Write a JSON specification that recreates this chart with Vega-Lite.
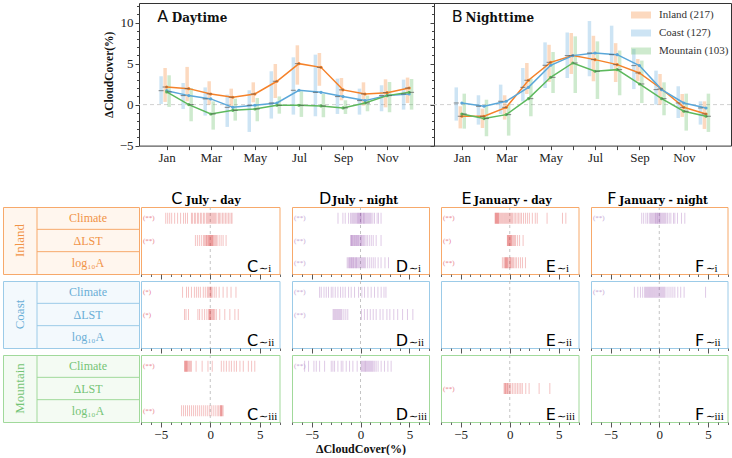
{
"$schema": "https://vega.github.io/schema/vega-lite/v6.json",
"background": "white",
"padding": {"left": 2, "top": 2, "right": 0, "bottom": 0},
"datasets": {
"top": [
{"panel":"A","region":"Inland","month":1,"mean":2.15,"lo":0.33,"hi":4.47},
{"panel":"A","region":"Inland","month":2,"mean":1.95,"lo":0.4,"hi":4.6},
{"panel":"A","region":"Inland","month":3,"mean":1.3,"lo":0,"hi":2.85},
{"panel":"A","region":"Inland","month":4,"mean":0.9,"lo":-0.33,"hi":1.95},
{"panel":"A","region":"Inland","month":5,"mean":1.3,"lo":0.28,"hi":2.72},
{"panel":"A","region":"Inland","month":6,"mean":2.85,"lo":0.81,"hi":4.96},
{"panel":"A","region":"Inland","month":7,"mean":5.0,"lo":2.44,"hi":7.24},
{"panel":"A","region":"Inland","month":8,"mean":4.55,"lo":2.3,"hi":6.3},
{"panel":"A","region":"Inland","month":9,"mean":1.8,"lo":0.53,"hi":3.25},
{"panel":"A","region":"Inland","month":10,"mean":1.3,"lo":-0.12,"hi":2.72},
{"panel":"A","region":"Inland","month":11,"mean":1.46,"lo":-0.33,"hi":3.09},
{"panel":"A","region":"Inland","month":12,"mean":2.03,"lo":0.2,"hi":3.3},
{"panel":"A","region":"Coast","month":1,"mean":1.7,"lo":0.08,"hi":3.46},
{"panel":"A","region":"Coast","month":2,"mean":1.1,"lo":-0.53,"hi":2.64},
{"panel":"A","region":"Coast","month":3,"mean":0.7,"lo":-1.34,"hi":2.1},
{"panel":"A","region":"Coast","month":4,"mean":-0.33,"lo":-2.72,"hi":1.22},
{"panel":"A","region":"Coast","month":5,"mean":-0.08,"lo":-3.33,"hi":1.75},
{"panel":"A","region":"Coast","month":6,"mean":0.2,"lo":-1.7,"hi":4.07},
{"panel":"A","region":"Coast","month":7,"mean":1.75,"lo":-1.22,"hi":5.77},
{"panel":"A","region":"Coast","month":8,"mean":1.5,"lo":-1.42,"hi":6.1},
{"panel":"A","region":"Coast","month":9,"mean":0.98,"lo":-1.14,"hi":3.17},
{"panel":"A","region":"Coast","month":10,"mean":0.49,"lo":-1.22,"hi":1.95},
{"panel":"A","region":"Coast","month":11,"mean":1.1,"lo":-0.81,"hi":2.36},
{"panel":"A","region":"Coast","month":12,"mean":1.3,"lo":-0.61,"hi":3.05},
{"panel":"A","region":"Mountain","month":1,"mean":1.55,"lo":-0.28,"hi":3.58},
{"panel":"A","region":"Mountain","month":2,"mean":0,"lo":-2.03,"hi":2.03},
{"panel":"A","region":"Mountain","month":3,"mean":-1.14,"lo":-3.05,"hi":0.4},
{"panel":"A","region":"Mountain","month":4,"mean":-0.7,"lo":-1.95,"hi":0.73},
{"panel":"A","region":"Mountain","month":5,"mean":-0.53,"lo":-2.03,"hi":0.81},
{"panel":"A","region":"Mountain","month":6,"mean":-0.08,"lo":-1.1,"hi":1.0},
{"panel":"A","region":"Mountain","month":7,"mean":-0.08,"lo":-1.5,"hi":1.63},
{"panel":"A","region":"Mountain","month":8,"mean":-0.16,"lo":-1.54,"hi":1.3},
{"panel":"A","region":"Mountain","month":9,"mean":-0.4,"lo":-1.14,"hi":0.53},
{"panel":"A","region":"Mountain","month":10,"mean":0.2,"lo":-0.81,"hi":1.1},
{"panel":"A","region":"Mountain","month":11,"mean":1.1,"lo":-0.93,"hi":2.76},
{"panel":"A","region":"Mountain","month":12,"mean":1.5,"lo":-0.61,"hi":3.13},
{"panel":"B","region":"Inland","month":1,"mean":-1.42,"lo":-2.9,"hi":-0.2},
{"panel":"B","region":"Inland","month":2,"mean":-1.42,"lo":-2.85,"hi":-0.49},
{"panel":"B","region":"Inland","month":3,"mean":-0.33,"lo":-1.83,"hi":1.14},
{"panel":"B","region":"Inland","month":4,"mean":2.97,"lo":1.3,"hi":5.08},
{"panel":"B","region":"Inland","month":5,"mean":5.16,"lo":2.76,"hi":7.3},
{"panel":"B","region":"Inland","month":6,"mean":5.98,"lo":3.74,"hi":8.74},
{"panel":"B","region":"Inland","month":7,"mean":5.49,"lo":2.85,"hi":8.4},
{"panel":"B","region":"Inland","month":8,"mean":4.88,"lo":2.76,"hi":7.5},
{"panel":"B","region":"Inland","month":9,"mean":3.86,"lo":2.85,"hi":5.57},
{"panel":"B","region":"Inland","month":10,"mean":1.91,"lo":0,"hi":3.74},
{"panel":"B","region":"Inland","month":11,"mean":-0.33,"lo":-1.5,"hi":1.3},
{"panel":"B","region":"Inland","month":12,"mean":-1.14,"lo":-2.97,"hi":0.4},
{"panel":"B","region":"Coast","month":1,"mean":0.2,"lo":-1.95,"hi":2.1},
{"panel":"B","region":"Coast","month":2,"mean":-0.2,"lo":-2.44,"hi":1.14},
{"panel":"B","region":"Coast","month":3,"mean":0.41,"lo":-1.14,"hi":2.44},
{"panel":"B","region":"Coast","month":4,"mean":2.11,"lo":0.4,"hi":4.47},
{"panel":"B","region":"Coast","month":5,"mean":4.8,"lo":2.03,"hi":7.6},
{"panel":"B","region":"Coast","month":6,"mean":5.98,"lo":3.25,"hi":8.8},
{"panel":"B","region":"Coast","month":7,"mean":6.3,"lo":3.46,"hi":10.2},
{"panel":"B","region":"Coast","month":8,"mean":6.1,"lo":4.27,"hi":9.63},
{"panel":"B","region":"Coast","month":9,"mean":4.76,"lo":1.9,"hi":6.8},
{"panel":"B","region":"Coast","month":10,"mean":1.83,"lo":0,"hi":4.15},
{"panel":"B","region":"Coast","month":11,"mean":0.2,"lo":-1.63,"hi":2.24},
{"panel":"B","region":"Coast","month":12,"mean":-0.41,"lo":-2.44,"hi":0.4},
{"panel":"B","region":"Mountain","month":1,"mean":-1.14,"lo":-2.93,"hi":1.34},
{"panel":"B","region":"Mountain","month":2,"mean":-1.7,"lo":-3.86,"hi":0.6},
{"panel":"B","region":"Mountain","month":3,"mean":-1.22,"lo":-3.78,"hi":0},
{"panel":"B","region":"Mountain","month":4,"mean":0.73,"lo":-1.42,"hi":3.17},
{"panel":"B","region":"Mountain","month":5,"mean":3.33,"lo":1.42,"hi":6.42},
{"panel":"B","region":"Mountain","month":6,"mean":5.08,"lo":1.42,"hi":8.33},
{"panel":"B","region":"Mountain","month":7,"mean":4.07,"lo":0.69,"hi":7.72},
{"panel":"B","region":"Mountain","month":8,"mean":4.27,"lo":1.14,"hi":6.6},
{"panel":"B","region":"Mountain","month":9,"mean":2.52,"lo":0.2,"hi":5.37},
{"panel":"B","region":"Mountain","month":10,"mean":0.73,"lo":-1.3,"hi":2.72},
{"panel":"B","region":"Mountain","month":11,"mean":-0.81,"lo":-3.17,"hi":1.34},
{"panel":"B","region":"Mountain","month":12,"mean":-1.42,"lo":-3.33,"hi":1.34}
],
"metrics": [{"m":"Climate","label":"Climate"},{"m":"ΔLST","label":"ΔLST"},{"m":"log10A","label":"log₁₀A"}],
"sig": [
{"p":"C","r":"Inland","m":"Climate","s":"(**)"},
{"p":"C","r":"Inland","m":"ΔLST","s":"(**)"},
{"p":"C","r":"Coast","m":"Climate","s":"(*)"},
{"p":"C","r":"Coast","m":"ΔLST","s":"(*)"},
{"p":"C","r":"Mountain","m":"Climate","s":"(**)"},
{"p":"C","r":"Mountain","m":"log10A","s":"(**)"},
{"p":"D","r":"Inland","m":"Climate","s":"(**)"},
{"p":"D","r":"Inland","m":"ΔLST","s":"(**)"},
{"p":"D","r":"Inland","m":"log10A","s":"(**)"},
{"p":"D","r":"Coast","m":"Climate","s":"(**)"},
{"p":"D","r":"Coast","m":"ΔLST","s":"(**)"},
{"p":"D","r":"Mountain","m":"Climate","s":"(**)"},
{"p":"E","r":"Inland","m":"Climate","s":"(**)"},
{"p":"E","r":"Inland","m":"ΔLST","s":"(*)"},
{"p":"E","r":"Inland","m":"log10A","s":"(**)"},
{"p":"E","r":"Mountain","m":"ΔLST","s":"(**)"},
{"p":"F","r":"Inland","m":"Climate","s":"(**)"},
{"p":"F","r":"Coast","m":"Climate","s":"(**)"}
],
"rug": [
{"p":"C","r":"Inland","m":"Climate","v":-4.5},{"p":"C","r":"Inland","m":"Climate","v":-4.3},{"p":"C","r":"Inland","m":"Climate","v":-4.1},{"p":"C","r":"Inland","m":"Climate","v":-3.9},{"p":"C","r":"Inland","m":"Climate","v":-3.6},{"p":"C","r":"Inland","m":"Climate","v":-3.3},{"p":"C","r":"Inland","m":"Climate","v":-3.0},{"p":"C","r":"Inland","m":"Climate","v":-2.7},{"p":"C","r":"Inland","m":"Climate","v":-2.5},{"p":"C","r":"Inland","m":"Climate","v":-2.3},{"p":"C","r":"Inland","m":"Climate","v":-1.9},{"p":"C","r":"Inland","m":"Climate","v":-1.8},{"p":"C","r":"Inland","m":"Climate","v":-1.6},{"p":"C","r":"Inland","m":"Climate","v":-1.5},{"p":"C","r":"Inland","m":"Climate","v":-1.3},{"p":"C","r":"Inland","m":"Climate","v":-1.2},{"p":"C","r":"Inland","m":"Climate","v":-1.0},{"p":"C","r":"Inland","m":"Climate","v":-0.9},{"p":"C","r":"Inland","m":"Climate","v":-0.7},{"p":"C","r":"Inland","m":"Climate","v":-0.6},{"p":"C","r":"Inland","m":"Climate","v":-0.4},{"p":"C","r":"Inland","m":"Climate","v":-0.3},{"p":"C","r":"Inland","m":"Climate","v":-0.2},{"p":"C","r":"Inland","m":"Climate","v":-0.1},{"p":"C","r":"Inland","m":"Climate","v":0},{"p":"C","r":"Inland","m":"Climate","v":0.1},{"p":"C","r":"Inland","m":"Climate","v":0.2},{"p":"C","r":"Inland","m":"Climate","v":0.3},{"p":"C","r":"Inland","m":"Climate","v":0.4},{"p":"C","r":"Inland","m":"Climate","v":0.5},{"p":"C","r":"Inland","m":"Climate","v":0.6},{"p":"C","r":"Inland","m":"Climate","v":0.8},{"p":"C","r":"Inland","m":"Climate","v":0.9},{"p":"C","r":"Inland","m":"Climate","v":1.0},{"p":"C","r":"Inland","m":"Climate","v":1.2},{"p":"C","r":"Inland","m":"Climate","v":1.3},{"p":"C","r":"Inland","m":"Climate","v":1.5},{"p":"C","r":"Inland","m":"Climate","v":1.6},{"p":"C","r":"Inland","m":"Climate","v":1.8},{"p":"C","r":"Inland","m":"Climate","v":1.9},{"p":"C","r":"Inland","m":"Climate","v":2.1},{"p":"C","r":"Inland","m":"Climate","v":2.2},
{"p":"C","r":"Inland","m":"ΔLST","v":-1.5},{"p":"C","r":"Inland","m":"ΔLST","v":-1.3},{"p":"C","r":"Inland","m":"ΔLST","v":-1.1},{"p":"C","r":"Inland","m":"ΔLST","v":-0.9},{"p":"C","r":"Inland","m":"ΔLST","v":-0.7},{"p":"C","r":"Inland","m":"ΔLST","v":-0.6},{"p":"C","r":"Inland","m":"ΔLST","v":-0.5},{"p":"C","r":"Inland","m":"ΔLST","v":-0.4},{"p":"C","r":"Inland","m":"ΔLST","v":-0.35},{"p":"C","r":"Inland","m":"ΔLST","v":-0.3},{"p":"C","r":"Inland","m":"ΔLST","v":-0.2},{"p":"C","r":"Inland","m":"ΔLST","v":-0.15},{"p":"C","r":"Inland","m":"ΔLST","v":-0.1},{"p":"C","r":"Inland","m":"ΔLST","v":-0.05},{"p":"C","r":"Inland","m":"ΔLST","v":0},{"p":"C","r":"Inland","m":"ΔLST","v":0.05},{"p":"C","r":"Inland","m":"ΔLST","v":0.1},{"p":"C","r":"Inland","m":"ΔLST","v":0.15},{"p":"C","r":"Inland","m":"ΔLST","v":0.2},{"p":"C","r":"Inland","m":"ΔLST","v":0.25},{"p":"C","r":"Inland","m":"ΔLST","v":0.3},{"p":"C","r":"Inland","m":"ΔLST","v":0.4},{"p":"C","r":"Inland","m":"ΔLST","v":0.5},{"p":"C","r":"Inland","m":"ΔLST","v":0.6},{"p":"C","r":"Inland","m":"ΔLST","v":0.7},{"p":"C","r":"Inland","m":"ΔLST","v":0.9},{"p":"C","r":"Inland","m":"ΔLST","v":1.1},{"p":"C","r":"Inland","m":"ΔLST","v":1.3},{"p":"C","r":"Inland","m":"ΔLST","v":1.6},
{"p":"C","r":"Coast","m":"Climate","v":-2.8},{"p":"C","r":"Coast","m":"Climate","v":-2.4},{"p":"C","r":"Coast","m":"Climate","v":-2.2},{"p":"C","r":"Coast","m":"Climate","v":-1.9},{"p":"C","r":"Coast","m":"Climate","v":-1.6},{"p":"C","r":"Coast","m":"Climate","v":-1.4},{"p":"C","r":"Coast","m":"Climate","v":-1.2},{"p":"C","r":"Coast","m":"Climate","v":-1.0},{"p":"C","r":"Coast","m":"Climate","v":-0.7},{"p":"C","r":"Coast","m":"Climate","v":-0.5},{"p":"C","r":"Coast","m":"Climate","v":-0.3},{"p":"C","r":"Coast","m":"Climate","v":-0.2},{"p":"C","r":"Coast","m":"Climate","v":-0.1},{"p":"C","r":"Coast","m":"Climate","v":0},{"p":"C","r":"Coast","m":"Climate","v":0.05},{"p":"C","r":"Coast","m":"Climate","v":0.1},{"p":"C","r":"Coast","m":"Climate","v":0.2},{"p":"C","r":"Coast","m":"Climate","v":0.4},{"p":"C","r":"Coast","m":"Climate","v":0.6},{"p":"C","r":"Coast","m":"Climate","v":0.9},{"p":"C","r":"Coast","m":"Climate","v":1.3},{"p":"C","r":"Coast","m":"Climate","v":1.7},{"p":"C","r":"Coast","m":"Climate","v":2.1},{"p":"C","r":"Coast","m":"Climate","v":2.6},
{"p":"C","r":"Coast","m":"ΔLST","v":-2.6},{"p":"C","r":"Coast","m":"ΔLST","v":-2.45},{"p":"C","r":"Coast","m":"ΔLST","v":-2.2},{"p":"C","r":"Coast","m":"ΔLST","v":-1.25},{"p":"C","r":"Coast","m":"ΔLST","v":-1.08},{"p":"C","r":"Coast","m":"ΔLST","v":-0.82},{"p":"C","r":"Coast","m":"ΔLST","v":-0.57},{"p":"C","r":"Coast","m":"ΔLST","v":-0.34},{"p":"C","r":"Coast","m":"ΔLST","v":-0.16},{"p":"C","r":"Coast","m":"ΔLST","v":-0.1},{"p":"C","r":"Coast","m":"ΔLST","v":-0.06},{"p":"C","r":"Coast","m":"ΔLST","v":0},{"p":"C","r":"Coast","m":"ΔLST","v":0.05},{"p":"C","r":"Coast","m":"ΔLST","v":0.1},{"p":"C","r":"Coast","m":"ΔLST","v":0.2},{"p":"C","r":"Coast","m":"ΔLST","v":0.28},{"p":"C","r":"Coast","m":"ΔLST","v":0.35},{"p":"C","r":"Coast","m":"ΔLST","v":0.45},{"p":"C","r":"Coast","m":"ΔLST","v":0.61},{"p":"C","r":"Coast","m":"ΔLST","v":0.96},{"p":"C","r":"Coast","m":"ΔLST","v":1.47},{"p":"C","r":"Coast","m":"ΔLST","v":1.98},{"p":"C","r":"Coast","m":"ΔLST","v":2.49},{"p":"C","r":"Coast","m":"ΔLST","v":2.83},
{"p":"C","r":"Mountain","m":"Climate","v":-2.6},{"p":"C","r":"Mountain","m":"Climate","v":-2.55},{"p":"C","r":"Mountain","m":"Climate","v":-2.5},{"p":"C","r":"Mountain","m":"Climate","v":-2.45},{"p":"C","r":"Mountain","m":"Climate","v":-2.4},{"p":"C","r":"Mountain","m":"Climate","v":-2.35},{"p":"C","r":"Mountain","m":"Climate","v":-2.3},{"p":"C","r":"Mountain","m":"Climate","v":-2.2},{"p":"C","r":"Mountain","m":"Climate","v":-2.1},{"p":"C","r":"Mountain","m":"Climate","v":-2.0},{"p":"C","r":"Mountain","m":"Climate","v":-1.9},{"p":"C","r":"Mountain","m":"Climate","v":-1.43},{"p":"C","r":"Mountain","m":"Climate","v":-0.82},{"p":"C","r":"Mountain","m":"Climate","v":-0.23},{"p":"C","r":"Mountain","m":"Climate","v":0.2},{"p":"C","r":"Mountain","m":"Climate","v":1.12},{"p":"C","r":"Mountain","m":"Climate","v":1.37},{"p":"C","r":"Mountain","m":"Climate","v":1.63},{"p":"C","r":"Mountain","m":"Climate","v":1.91},{"p":"C","r":"Mountain","m":"Climate","v":2.14},{"p":"C","r":"Mountain","m":"Climate","v":2.42},{"p":"C","r":"Mountain","m":"Climate","v":2.65},{"p":"C","r":"Mountain","m":"Climate","v":3.0},{"p":"C","r":"Mountain","m":"Climate","v":3.34},{"p":"C","r":"Mountain","m":"Climate","v":3.85},{"p":"C","r":"Mountain","m":"Climate","v":4.18},{"p":"C","r":"Mountain","m":"Climate","v":4.5},
{"p":"C","r":"Mountain","m":"log10A","v":-2.9},{"p":"C","r":"Mountain","m":"log10A","v":-2.7},{"p":"C","r":"Mountain","m":"log10A","v":-2.5},{"p":"C","r":"Mountain","m":"log10A","v":-2.3},{"p":"C","r":"Mountain","m":"log10A","v":-2.1},{"p":"C","r":"Mountain","m":"log10A","v":-1.9},{"p":"C","r":"Mountain","m":"log10A","v":-1.7},{"p":"C","r":"Mountain","m":"log10A","v":-1.5},{"p":"C","r":"Mountain","m":"log10A","v":-1.3},{"p":"C","r":"Mountain","m":"log10A","v":-1.1},{"p":"C","r":"Mountain","m":"log10A","v":-0.9},{"p":"C","r":"Mountain","m":"log10A","v":-0.7},{"p":"C","r":"Mountain","m":"log10A","v":-0.5},{"p":"C","r":"Mountain","m":"log10A","v":-0.3},{"p":"C","r":"Mountain","m":"log10A","v":-0.1},{"p":"C","r":"Mountain","m":"log10A","v":0.1},{"p":"C","r":"Mountain","m":"log10A","v":0.3},{"p":"C","r":"Mountain","m":"log10A","v":0.5},{"p":"C","r":"Mountain","m":"log10A","v":0.7},{"p":"C","r":"Mountain","m":"log10A","v":0.85},{"p":"C","r":"Mountain","m":"log10A","v":1.0},{"p":"C","r":"Mountain","m":"log10A","v":1.05},{"p":"C","r":"Mountain","m":"log10A","v":1.1},{"p":"C","r":"Mountain","m":"log10A","v":1.15},{"p":"C","r":"Mountain","m":"log10A","v":1.2},{"p":"C","r":"Mountain","m":"log10A","v":1.3},
{"p":"D","r":"Inland","m":"Climate","v":-2.3},{"p":"D","r":"Inland","m":"Climate","v":-1.8},{"p":"D","r":"Inland","m":"Climate","v":-1.56},{"p":"D","r":"Inland","m":"Climate","v":-1.22},{"p":"D","r":"Inland","m":"Climate","v":-1.02},{"p":"D","r":"Inland","m":"Climate","v":-0.9},{"p":"D","r":"Inland","m":"Climate","v":-0.8},{"p":"D","r":"Inland","m":"Climate","v":-0.7},{"p":"D","r":"Inland","m":"Climate","v":-0.6},{"p":"D","r":"Inland","m":"Climate","v":-0.5},{"p":"D","r":"Inland","m":"Climate","v":-0.4},{"p":"D","r":"Inland","m":"Climate","v":-0.3},{"p":"D","r":"Inland","m":"Climate","v":-0.25},{"p":"D","r":"Inland","m":"Climate","v":-0.2},{"p":"D","r":"Inland","m":"Climate","v":-0.1},{"p":"D","r":"Inland","m":"Climate","v":-0.05},{"p":"D","r":"Inland","m":"Climate","v":0},{"p":"D","r":"Inland","m":"Climate","v":0.05},{"p":"D","r":"Inland","m":"Climate","v":0.1},{"p":"D","r":"Inland","m":"Climate","v":0.2},{"p":"D","r":"Inland","m":"Climate","v":0.3},{"p":"D","r":"Inland","m":"Climate","v":0.35},{"p":"D","r":"Inland","m":"Climate","v":0.4},{"p":"D","r":"Inland","m":"Climate","v":0.5},{"p":"D","r":"Inland","m":"Climate","v":0.6},{"p":"D","r":"Inland","m":"Climate","v":0.7},{"p":"D","r":"Inland","m":"Climate","v":0.8},{"p":"D","r":"Inland","m":"Climate","v":0.9},{"p":"D","r":"Inland","m":"Climate","v":1.0},{"p":"D","r":"Inland","m":"Climate","v":1.1},{"p":"D","r":"Inland","m":"Climate","v":1.26},{"p":"D","r":"Inland","m":"Climate","v":1.43},{"p":"D","r":"Inland","m":"Climate","v":1.7},{"p":"D","r":"Inland","m":"Climate","v":1.84},{"p":"D","r":"Inland","m":"Climate","v":2.1},
{"p":"D","r":"Inland","m":"ΔLST","v":-1.0},{"p":"D","r":"Inland","m":"ΔLST","v":-0.95},{"p":"D","r":"Inland","m":"ΔLST","v":-0.9},{"p":"D","r":"Inland","m":"ΔLST","v":-0.85},{"p":"D","r":"Inland","m":"ΔLST","v":-0.8},{"p":"D","r":"Inland","m":"ΔLST","v":-0.7},{"p":"D","r":"Inland","m":"ΔLST","v":-0.65},{"p":"D","r":"Inland","m":"ΔLST","v":-0.6},{"p":"D","r":"Inland","m":"ΔLST","v":-0.5},{"p":"D","r":"Inland","m":"ΔLST","v":-0.45},{"p":"D","r":"Inland","m":"ΔLST","v":-0.4},{"p":"D","r":"Inland","m":"ΔLST","v":-0.3},{"p":"D","r":"Inland","m":"ΔLST","v":-0.25},{"p":"D","r":"Inland","m":"ΔLST","v":-0.2},{"p":"D","r":"Inland","m":"ΔLST","v":-0.1},{"p":"D","r":"Inland","m":"ΔLST","v":0},{"p":"D","r":"Inland","m":"ΔLST","v":0.05},{"p":"D","r":"Inland","m":"ΔLST","v":0.1},{"p":"D","r":"Inland","m":"ΔLST","v":0.2},{"p":"D","r":"Inland","m":"ΔLST","v":0.3},{"p":"D","r":"Inland","m":"ΔLST","v":0.4},{"p":"D","r":"Inland","m":"ΔLST","v":0.55},{"p":"D","r":"Inland","m":"ΔLST","v":0.7},{"p":"D","r":"Inland","m":"ΔLST","v":0.9},{"p":"D","r":"Inland","m":"ΔLST","v":1.1},{"p":"D","r":"Inland","m":"ΔLST","v":1.3},{"p":"D","r":"Inland","m":"ΔLST","v":1.6},{"p":"D","r":"Inland","m":"ΔLST","v":2.1},
{"p":"D","r":"Inland","m":"log10A","v":-1.36},{"p":"D","r":"Inland","m":"log10A","v":-1.25},{"p":"D","r":"Inland","m":"log10A","v":-1.15},{"p":"D","r":"Inland","m":"log10A","v":-1.1},{"p":"D","r":"Inland","m":"log10A","v":-1.0},{"p":"D","r":"Inland","m":"log10A","v":-0.95},{"p":"D","r":"Inland","m":"log10A","v":-0.9},{"p":"D","r":"Inland","m":"log10A","v":-0.8},{"p":"D","r":"Inland","m":"log10A","v":-0.75},{"p":"D","r":"Inland","m":"log10A","v":-0.7},{"p":"D","r":"Inland","m":"log10A","v":-0.6},{"p":"D","r":"Inland","m":"log10A","v":-0.5},{"p":"D","r":"Inland","m":"log10A","v":-0.45},{"p":"D","r":"Inland","m":"log10A","v":-0.4},{"p":"D","r":"Inland","m":"log10A","v":-0.3},{"p":"D","r":"Inland","m":"log10A","v":-0.2},{"p":"D","r":"Inland","m":"log10A","v":-0.1},{"p":"D","r":"Inland","m":"log10A","v":0},{"p":"D","r":"Inland","m":"log10A","v":0.1},{"p":"D","r":"Inland","m":"log10A","v":0.2},{"p":"D","r":"Inland","m":"log10A","v":0.3},{"p":"D","r":"Inland","m":"log10A","v":0.4},{"p":"D","r":"Inland","m":"log10A","v":0.5},{"p":"D","r":"Inland","m":"log10A","v":0.7},{"p":"D","r":"Inland","m":"log10A","v":0.9},{"p":"D","r":"Inland","m":"log10A","v":1.1},{"p":"D","r":"Inland","m":"log10A","v":1.3},{"p":"D","r":"Inland","m":"log10A","v":1.5},{"p":"D","r":"Inland","m":"log10A","v":1.8},{"p":"D","r":"Inland","m":"log10A","v":2.1},{"p":"D","r":"Inland","m":"log10A","v":2.5},{"p":"D","r":"Inland","m":"log10A","v":2.86},
{"p":"D","r":"Coast","m":"Climate","v":-4.18},{"p":"D","r":"Coast","m":"Climate","v":-4.01},{"p":"D","r":"Coast","m":"Climate","v":-3.73},{"p":"D","r":"Coast","m":"Climate","v":-3.5},{"p":"D","r":"Coast","m":"Climate","v":-3.27},{"p":"D","r":"Coast","m":"Climate","v":-2.99},{"p":"D","r":"Coast","m":"Climate","v":-2.82},{"p":"D","r":"Coast","m":"Climate","v":-2.58},{"p":"D","r":"Coast","m":"Climate","v":-2.31},{"p":"D","r":"Coast","m":"Climate","v":-2.04},{"p":"D","r":"Coast","m":"Climate","v":-1.8},{"p":"D","r":"Coast","m":"Climate","v":-1.56},{"p":"D","r":"Coast","m":"Climate","v":-1.22},{"p":"D","r":"Coast","m":"Climate","v":-0.95},{"p":"D","r":"Coast","m":"Climate","v":-0.61},{"p":"D","r":"Coast","m":"Climate","v":-0.2},{"p":"D","r":"Coast","m":"Climate","v":0.14},{"p":"D","r":"Coast","m":"Climate","v":0.41},{"p":"D","r":"Coast","m":"Climate","v":0.76},{"p":"D","r":"Coast","m":"Climate","v":1.09},{"p":"D","r":"Coast","m":"Climate","v":1.43},{"p":"D","r":"Coast","m":"Climate","v":1.78},{"p":"D","r":"Coast","m":"Climate","v":2.11},{"p":"D","r":"Coast","m":"Climate","v":2.4},{"p":"D","r":"Coast","m":"Climate","v":2.6},
{"p":"D","r":"Coast","m":"ΔLST","v":-2.8},{"p":"D","r":"Coast","m":"ΔLST","v":-2.7},{"p":"D","r":"Coast","m":"ΔLST","v":-2.6},{"p":"D","r":"Coast","m":"ΔLST","v":-2.5},{"p":"D","r":"Coast","m":"ΔLST","v":-2.4},{"p":"D","r":"Coast","m":"ΔLST","v":-2.3},{"p":"D","r":"Coast","m":"ΔLST","v":-2.2},{"p":"D","r":"Coast","m":"ΔLST","v":-2.1},{"p":"D","r":"Coast","m":"ΔLST","v":-2.0},{"p":"D","r":"Coast","m":"ΔLST","v":-1.9},{"p":"D","r":"Coast","m":"ΔLST","v":-1.7},{"p":"D","r":"Coast","m":"ΔLST","v":-1.5},{"p":"D","r":"Coast","m":"ΔLST","v":-1.3},{"p":"D","r":"Coast","m":"ΔLST","v":0.1},{"p":"D","r":"Coast","m":"ΔLST","v":0.4},{"p":"D","r":"Coast","m":"ΔLST","v":0.7},{"p":"D","r":"Coast","m":"ΔLST","v":1.0},{"p":"D","r":"Coast","m":"ΔLST","v":1.3},{"p":"D","r":"Coast","m":"ΔLST","v":1.6},{"p":"D","r":"Coast","m":"ΔLST","v":2.0},{"p":"D","r":"Coast","m":"ΔLST","v":2.3},{"p":"D","r":"Coast","m":"ΔLST","v":2.7},{"p":"D","r":"Coast","m":"ΔLST","v":3.0},{"p":"D","r":"Coast","m":"ΔLST","v":3.4},{"p":"D","r":"Coast","m":"ΔLST","v":3.8},{"p":"D","r":"Coast","m":"ΔLST","v":4.3},{"p":"D","r":"Coast","m":"ΔLST","v":4.8},{"p":"D","r":"Coast","m":"ΔLST","v":5.35},
{"p":"D","r":"Mountain","m":"Climate","v":-5.71},{"p":"D","r":"Mountain","m":"Climate","v":-5.31},{"p":"D","r":"Mountain","m":"Climate","v":-4.76},{"p":"D","r":"Mountain","m":"Climate","v":-4.52},{"p":"D","r":"Mountain","m":"Climate","v":-4.18},{"p":"D","r":"Mountain","m":"Climate","v":-3.67},{"p":"D","r":"Mountain","m":"Climate","v":-2.99},{"p":"D","r":"Mountain","m":"Climate","v":-2.82},{"p":"D","r":"Mountain","m":"Climate","v":-2.65},{"p":"D","r":"Mountain","m":"Climate","v":-2.31},{"p":"D","r":"Mountain","m":"Climate","v":-1.97},{"p":"D","r":"Mountain","m":"Climate","v":-1.8},{"p":"D","r":"Mountain","m":"Climate","v":-1.46},{"p":"D","r":"Mountain","m":"Climate","v":-1.12},{"p":"D","r":"Mountain","m":"Climate","v":-0.78},{"p":"D","r":"Mountain","m":"Climate","v":-0.34},{"p":"D","r":"Mountain","m":"Climate","v":0.07},{"p":"D","r":"Mountain","m":"Climate","v":0.15},{"p":"D","r":"Mountain","m":"Climate","v":0.25},{"p":"D","r":"Mountain","m":"Climate","v":0.35},{"p":"D","r":"Mountain","m":"Climate","v":0.45},{"p":"D","r":"Mountain","m":"Climate","v":0.5},{"p":"D","r":"Mountain","m":"Climate","v":0.6},{"p":"D","r":"Mountain","m":"Climate","v":0.7},{"p":"D","r":"Mountain","m":"Climate","v":0.8},{"p":"D","r":"Mountain","m":"Climate","v":0.9},{"p":"D","r":"Mountain","m":"Climate","v":1.0},{"p":"D","r":"Mountain","m":"Climate","v":1.1},{"p":"D","r":"Mountain","m":"Climate","v":1.2},{"p":"D","r":"Mountain","m":"Climate","v":1.3},{"p":"D","r":"Mountain","m":"Climate","v":1.45},{"p":"D","r":"Mountain","m":"Climate","v":1.6},{"p":"D","r":"Mountain","m":"Climate","v":1.8},{"p":"D","r":"Mountain","m":"Climate","v":2.11},{"p":"D","r":"Mountain","m":"Climate","v":2.45},{"p":"D","r":"Mountain","m":"Climate","v":2.8},{"p":"D","r":"Mountain","m":"Climate","v":3.13},
{"p":"E","r":"Inland","m":"Climate","v":-1.5},{"p":"E","r":"Inland","m":"Climate","v":-1.45},{"p":"E","r":"Inland","m":"Climate","v":-1.4},{"p":"E","r":"Inland","m":"Climate","v":-1.35},{"p":"E","r":"Inland","m":"Climate","v":-1.3},{"p":"E","r":"Inland","m":"Climate","v":-1.25},{"p":"E","r":"Inland","m":"Climate","v":-1.2},{"p":"E","r":"Inland","m":"Climate","v":-1.15},{"p":"E","r":"Inland","m":"Climate","v":-1.1},{"p":"E","r":"Inland","m":"Climate","v":-1.0},{"p":"E","r":"Inland","m":"Climate","v":-0.9},{"p":"E","r":"Inland","m":"Climate","v":-0.8},{"p":"E","r":"Inland","m":"Climate","v":-0.7},{"p":"E","r":"Inland","m":"Climate","v":-0.6},{"p":"E","r":"Inland","m":"Climate","v":-0.5},{"p":"E","r":"Inland","m":"Climate","v":-0.4},{"p":"E","r":"Inland","m":"Climate","v":-0.3},{"p":"E","r":"Inland","m":"Climate","v":-0.2},{"p":"E","r":"Inland","m":"Climate","v":-0.1},{"p":"E","r":"Inland","m":"Climate","v":0},{"p":"E","r":"Inland","m":"Climate","v":0.1},{"p":"E","r":"Inland","m":"Climate","v":0.2},{"p":"E","r":"Inland","m":"Climate","v":0.3},{"p":"E","r":"Inland","m":"Climate","v":0.45},{"p":"E","r":"Inland","m":"Climate","v":0.6},{"p":"E","r":"Inland","m":"Climate","v":0.75},{"p":"E","r":"Inland","m":"Climate","v":0.9},{"p":"E","r":"Inland","m":"Climate","v":1.05},{"p":"E","r":"Inland","m":"Climate","v":1.2},{"p":"E","r":"Inland","m":"Climate","v":1.4},{"p":"E","r":"Inland","m":"Climate","v":1.6},{"p":"E","r":"Inland","m":"Climate","v":1.8},{"p":"E","r":"Inland","m":"Climate","v":2.0},{"p":"E","r":"Inland","m":"Climate","v":2.3},{"p":"E","r":"Inland","m":"Climate","v":2.6},{"p":"E","r":"Inland","m":"Climate","v":2.8},{"p":"E","r":"Inland","m":"Climate","v":3.8},{"p":"E","r":"Inland","m":"Climate","v":5.37},{"p":"E","r":"Inland","m":"Climate","v":5.71},
{"p":"E","r":"Inland","m":"ΔLST","v":-0.24},{"p":"E","r":"Inland","m":"ΔLST","v":-0.2},{"p":"E","r":"Inland","m":"ΔLST","v":-0.15},{"p":"E","r":"Inland","m":"ΔLST","v":-0.1},{"p":"E","r":"Inland","m":"ΔLST","v":-0.05},{"p":"E","r":"Inland","m":"ΔLST","v":0},{"p":"E","r":"Inland","m":"ΔLST","v":0.05},{"p":"E","r":"Inland","m":"ΔLST","v":0.1},{"p":"E","r":"Inland","m":"ΔLST","v":0.15},{"p":"E","r":"Inland","m":"ΔLST","v":0.2},{"p":"E","r":"Inland","m":"ΔLST","v":0.3},{"p":"E","r":"Inland","m":"ΔLST","v":0.4},{"p":"E","r":"Inland","m":"ΔLST","v":0.5},{"p":"E","r":"Inland","m":"ΔLST","v":0.6},{"p":"E","r":"Inland","m":"ΔLST","v":0.8},{"p":"E","r":"Inland","m":"ΔLST","v":1.0},{"p":"E","r":"Inland","m":"ΔLST","v":1.36},
{"p":"E","r":"Inland","m":"log10A","v":-0.75},{"p":"E","r":"Inland","m":"log10A","v":-0.6},{"p":"E","r":"Inland","m":"log10A","v":-0.5},{"p":"E","r":"Inland","m":"log10A","v":-0.45},{"p":"E","r":"Inland","m":"log10A","v":-0.4},{"p":"E","r":"Inland","m":"log10A","v":-0.35},{"p":"E","r":"Inland","m":"log10A","v":-0.3},{"p":"E","r":"Inland","m":"log10A","v":-0.25},{"p":"E","r":"Inland","m":"log10A","v":-0.2},{"p":"E","r":"Inland","m":"log10A","v":-0.1},{"p":"E","r":"Inland","m":"log10A","v":0},{"p":"E","r":"Inland","m":"log10A","v":0.05},{"p":"E","r":"Inland","m":"log10A","v":0.1},{"p":"E","r":"Inland","m":"log10A","v":0.2},{"p":"E","r":"Inland","m":"log10A","v":0.3},{"p":"E","r":"Inland","m":"log10A","v":0.4},{"p":"E","r":"Inland","m":"log10A","v":0.55},{"p":"E","r":"Inland","m":"log10A","v":0.7},{"p":"E","r":"Inland","m":"log10A","v":0.9},{"p":"E","r":"Inland","m":"log10A","v":1.1},{"p":"E","r":"Inland","m":"log10A","v":1.3},{"p":"E","r":"Inland","m":"log10A","v":1.6},
{"p":"E","r":"Mountain","m":"ΔLST","v":-0.58},{"p":"E","r":"Mountain","m":"ΔLST","v":-0.5},{"p":"E","r":"Mountain","m":"ΔLST","v":-0.45},{"p":"E","r":"Mountain","m":"ΔLST","v":-0.4},{"p":"E","r":"Mountain","m":"ΔLST","v":-0.3},{"p":"E","r":"Mountain","m":"ΔLST","v":-0.25},{"p":"E","r":"Mountain","m":"ΔLST","v":-0.2},{"p":"E","r":"Mountain","m":"ΔLST","v":-0.1},{"p":"E","r":"Mountain","m":"ΔLST","v":0},{"p":"E","r":"Mountain","m":"ΔLST","v":0.1},{"p":"E","r":"Mountain","m":"ΔLST","v":0.27},{"p":"E","r":"Mountain","m":"ΔLST","v":0.44},{"p":"E","r":"Mountain","m":"ΔLST","v":0.61},{"p":"E","r":"Mountain","m":"ΔLST","v":0.78},{"p":"E","r":"Mountain","m":"ΔLST","v":0.95},{"p":"E","r":"Mountain","m":"ΔLST","v":1.12},{"p":"E","r":"Mountain","m":"ΔLST","v":1.28},{"p":"E","r":"Mountain","m":"ΔLST","v":1.63},{"p":"E","r":"Mountain","m":"ΔLST","v":1.97},{"p":"E","r":"Mountain","m":"ΔLST","v":2.99},{"p":"E","r":"Mountain","m":"ΔLST","v":4.08},
{"p":"F","r":"Inland","m":"Climate","v":-1.8},{"p":"F","r":"Inland","m":"Climate","v":-1.6},{"p":"F","r":"Inland","m":"Climate","v":-1.37},{"p":"F","r":"Inland","m":"Climate","v":-1.2},{"p":"F","r":"Inland","m":"Climate","v":-1.02},{"p":"F","r":"Inland","m":"Climate","v":-0.9},{"p":"F","r":"Inland","m":"Climate","v":-0.8},{"p":"F","r":"Inland","m":"Climate","v":-0.7},{"p":"F","r":"Inland","m":"Climate","v":-0.6},{"p":"F","r":"Inland","m":"Climate","v":-0.5},{"p":"F","r":"Inland","m":"Climate","v":-0.4},{"p":"F","r":"Inland","m":"Climate","v":-0.35},{"p":"F","r":"Inland","m":"Climate","v":-0.3},{"p":"F","r":"Inland","m":"Climate","v":-0.2},{"p":"F","r":"Inland","m":"Climate","v":-0.15},{"p":"F","r":"Inland","m":"Climate","v":-0.1},{"p":"F","r":"Inland","m":"Climate","v":0},{"p":"F","r":"Inland","m":"Climate","v":0.05},{"p":"F","r":"Inland","m":"Climate","v":0.1},{"p":"F","r":"Inland","m":"Climate","v":0.2},{"p":"F","r":"Inland","m":"Climate","v":0.3},{"p":"F","r":"Inland","m":"Climate","v":0.4},{"p":"F","r":"Inland","m":"Climate","v":0.5},{"p":"F","r":"Inland","m":"Climate","v":0.6},{"p":"F","r":"Inland","m":"Climate","v":0.7},{"p":"F","r":"Inland","m":"Climate","v":0.85},{"p":"F","r":"Inland","m":"Climate","v":1.02},{"p":"F","r":"Inland","m":"Climate","v":1.19},{"p":"F","r":"Inland","m":"Climate","v":1.46},{"p":"F","r":"Inland","m":"Climate","v":1.6},{"p":"F","r":"Inland","m":"Climate","v":1.87},{"p":"F","r":"Inland","m":"Climate","v":2.28},{"p":"F","r":"Inland","m":"Climate","v":2.62},
{"p":"F","r":"Coast","m":"Climate","v":-2.55},{"p":"F","r":"Coast","m":"Climate","v":-2.2},{"p":"F","r":"Coast","m":"Climate","v":-1.93},{"p":"F","r":"Coast","m":"Climate","v":-1.7},{"p":"F","r":"Coast","m":"Climate","v":-1.5},{"p":"F","r":"Coast","m":"Climate","v":-1.4},{"p":"F","r":"Coast","m":"Climate","v":-1.3},{"p":"F","r":"Coast","m":"Climate","v":-1.2},{"p":"F","r":"Coast","m":"Climate","v":-1.1},{"p":"F","r":"Coast","m":"Climate","v":-1.0},{"p":"F","r":"Coast","m":"Climate","v":-0.9},{"p":"F","r":"Coast","m":"Climate","v":-0.8},{"p":"F","r":"Coast","m":"Climate","v":-0.7},{"p":"F","r":"Coast","m":"Climate","v":-0.6},{"p":"F","r":"Coast","m":"Climate","v":-0.5},{"p":"F","r":"Coast","m":"Climate","v":-0.4},{"p":"F","r":"Coast","m":"Climate","v":-0.3},{"p":"F","r":"Coast","m":"Climate","v":-0.2},{"p":"F","r":"Coast","m":"Climate","v":-0.1},{"p":"F","r":"Coast","m":"Climate","v":0},{"p":"F","r":"Coast","m":"Climate","v":0.1},{"p":"F","r":"Coast","m":"Climate","v":0.2},{"p":"F","r":"Coast","m":"Climate","v":0.3},{"p":"F","r":"Coast","m":"Climate","v":0.4},{"p":"F","r":"Coast","m":"Climate","v":0.5},{"p":"F","r":"Coast","m":"Climate","v":0.6},{"p":"F","r":"Coast","m":"Climate","v":0.8},{"p":"F","r":"Coast","m":"Climate","v":1.0},{"p":"F","r":"Coast","m":"Climate","v":1.2},{"p":"F","r":"Coast","m":"Climate","v":1.4},{"p":"F","r":"Coast","m":"Climate","v":1.6},{"p":"F","r":"Coast","m":"Climate","v":1.9},{"p":"F","r":"Coast","m":"Climate","v":2.2},{"p":"F","r":"Coast","m":"Climate","v":2.55},{"p":"F","r":"Coast","m":"Climate","v":4.75}
]
},
"vconcat": [
{
"hconcat": [
{"width": 136, "height": 142.6, "data": {"values": []}, "mark": "point", "view": {"stroke": null}},
{"width": 295, "height": 142.6, "resolve": {"axis": {"y": "independent", "x": "independent"}}, "layer": [
 {"data": {"values": [{}]}, "mark": {"type": "rule", "color": "#d0d0d0", "strokeDash": [4, 3], "strokeWidth": 1}, "encoding": {"y": {"datum": 0, "type": "quantitative", "scale": {"domain": [-5, 12.4], "nice": false, "zero": false}, "axis": {"orient": "left", "values": [-4,-3,-2,-1,1,2,3,4,6,7,8,9,11,12], "labels": false, "tickSize": 2.5, "domain": false, "title": null}}}},
 {"data": {"name": "top"}, "transform": [{"filter": "datum.panel === 'A' && datum.region === 'Coast'"}], "mark": {"type": "bar", "size": 3.5, "opacity": 0.3, "xOffset": -5.6}, "encoding": {"x": {"field": "month", "type": "quantitative", "scale": {"domain": [-0.03, 12.9], "nice": false, "zero": false}, "axis": {"values": [1,2,3,4,5,6,7,8,9,10,11,12], "labelExpr": "datum.value == 1 ? 'Jan' : datum.value == 3 ? 'Mar' : datum.value == 5 ? 'May' : datum.value == 7 ? 'Jul' : datum.value == 9 ? 'Sep' : datum.value == 11 ? 'Nov' : ''", "labelOverlap": false, "tickSize": 4, "labelPadding": 2, "title": null, "domain": false}}, "y": {"field": "lo", "type": "quantitative", "scale": {"domain": [-5, 12.4], "nice": false, "zero": false}, "axis": null}, "y2": {"field": "hi"}, "color": {"field": "region", "type": "nominal", "scale": {"domain": ["Inland", "Coast", "Mountain"], "range": ["#f5822a", "#5aa7d9", "#5db95d"]}, "legend": null}}},
 {"data": {"name": "top"}, "transform": [{"filter": "datum.panel === 'A' && datum.region === 'Inland'"}], "mark": {"type": "bar", "size": 3.5, "opacity": 0.3, "xOffset": -1.6}, "encoding": {"x": {"field": "month", "type": "quantitative", "scale": {"domain": [-0.03, 12.9], "nice": false, "zero": false}, "axis": null}, "y": {"field": "lo", "type": "quantitative", "scale": {"domain": [-5, 12.4], "nice": false, "zero": false}, "axis": null}, "y2": {"field": "hi"}, "color": {"field": "region", "type": "nominal", "scale": {"domain": ["Inland", "Coast", "Mountain"], "range": ["#f5822a", "#5aa7d9", "#5db95d"]}, "legend": null}}},
 {"data": {"name": "top"}, "transform": [{"filter": "datum.panel === 'A' && datum.region === 'Mountain'"}], "mark": {"type": "bar", "size": 3.5, "opacity": 0.3, "xOffset": 2.4}, "encoding": {"x": {"field": "month", "type": "quantitative", "scale": {"domain": [-0.03, 12.9], "nice": false, "zero": false}, "axis": null}, "y": {"field": "lo", "type": "quantitative", "scale": {"domain": [-5, 12.4], "nice": false, "zero": false}, "axis": null}, "y2": {"field": "hi"}, "color": {"field": "region", "type": "nominal", "scale": {"domain": ["Inland", "Coast", "Mountain"], "range": ["#f5822a", "#5aa7d9", "#5db95d"]}, "legend": null}}},
 {"data": {"name": "top"}, "transform": [{"filter": "datum.panel === 'A'"}], "mark": {"type": "line", "strokeWidth": 1.5, "point": {"filled": true, "size": 10}}, "encoding": {"x": {"field": "month", "type": "quantitative", "scale": {"domain": [-0.03, 12.9], "nice": false, "zero": false}, "axis": null}, "y": {"field": "mean", "type": "quantitative", "scale": {"domain": [-5, 12.4], "nice": false, "zero": false}, "axis": {"orient": "left", "values": [-5, 0, 5, 10], "tickSize": 4, "labelPadding": 2, "domain": false, "title": "ΔCloudCover(%)", "titleFontWeight": "bold", "titleFontSize": 11.5, "titlePadding": 5}}, "color": {"field": "region", "type": "nominal", "scale": {"domain": ["Inland", "Coast", "Mountain"], "range": ["#f5822a", "#5aa7d9", "#5db95d"]}, "legend": null}}},
 {"data": {"name": "top"}, "transform": [{"filter": "datum.panel === 'A' && datum.region === 'Coast'"}], "mark": {"type": "tick", "orient": "horizontal", "size": 5, "thickness": 1, "color": "#555", "xOffset": -5.6}, "encoding": {"x": {"field": "month", "type": "quantitative", "scale": {"domain": [-0.03, 12.9], "nice": false, "zero": false}, "axis": null}, "y": {"field": "mean", "type": "quantitative", "scale": {"domain": [-5, 12.4], "nice": false, "zero": false}, "axis": null}}},
 {"data": {"name": "top"}, "transform": [{"filter": "datum.panel === 'A' && datum.region === 'Inland'"}], "mark": {"type": "tick", "orient": "horizontal", "size": 5, "thickness": 1, "color": "#555", "xOffset": -1.6}, "encoding": {"x": {"field": "month", "type": "quantitative", "scale": {"domain": [-0.03, 12.9], "nice": false, "zero": false}, "axis": null}, "y": {"field": "mean", "type": "quantitative", "scale": {"domain": [-5, 12.4], "nice": false, "zero": false}, "axis": null}}},
 {"data": {"name": "top"}, "transform": [{"filter": "datum.panel === 'A' && datum.region === 'Mountain'"}], "mark": {"type": "tick", "orient": "horizontal", "size": 5, "thickness": 1, "color": "#555", "xOffset": 2.4}, "encoding": {"x": {"field": "month", "type": "quantitative", "scale": {"domain": [-0.03, 12.9], "nice": false, "zero": false}, "axis": null}, "y": {"field": "mean", "type": "quantitative", "scale": {"domain": [-5, 12.4], "nice": false, "zero": false}, "axis": null}}},
 {"data": {"values": [{"t": "A"}]}, "mark": {"type": "text", "align": "left", "baseline": "alphabetic", "font": "DejaVu Sans", "fontSize": 16, "color": "#111"}, "encoding": {"x": {"datum": 0.57, "type": "quantitative", "axis": null}, "y": {"datum": 10.08, "type": "quantitative", "axis": null}, "text": {"field": "t"}}},
 {"data": {"values": [{"t": "Daytime"}]}, "mark": {"type": "text", "align": "left", "baseline": "alphabetic", "font": "DejaVu Serif", "fontWeight": "bold", "fontSize": 12, "color": "#111"}, "encoding": {"x": {"datum": 1.23, "type": "quantitative", "axis": null}, "y": {"datum": 10.08, "type": "quantitative", "axis": null}, "text": {"field": "t"}}}
]},
{"width": 297, "height": 142.6, "resolve": {"axis": {"y": "independent", "x": "independent"}}, "layer": [
 {"data": {"values": [{}]}, "mark": {"type": "rule", "color": "#d0d0d0", "strokeDash": [4, 3], "strokeWidth": 1}, "encoding": {"y": {"datum": 0, "type": "quantitative", "scale": {"domain": [-5, 12.4], "nice": false, "zero": false}, "axis": {"orient": "left", "values": [-4,-3,-2,-1,1,2,3,4,6,7,8,9,11,12], "labels": false, "tickSize": 2.5, "domain": false, "title": null}}}},
 {"data": {"name": "top"}, "transform": [{"filter": "datum.panel === 'B' && datum.region === 'Coast'"}], "mark": {"type": "bar", "size": 3.5, "opacity": 0.3, "xOffset": -5.6}, "encoding": {"x": {"field": "month", "type": "quantitative", "scale": {"domain": [-0.03, 12.9], "nice": false, "zero": false}, "axis": {"values": [1,2,3,4,5,6,7,8,9,10,11,12], "labelExpr": "datum.value == 1 ? 'Jan' : datum.value == 3 ? 'Mar' : datum.value == 5 ? 'May' : datum.value == 7 ? 'Jul' : datum.value == 9 ? 'Sep' : datum.value == 11 ? 'Nov' : ''", "labelOverlap": false, "tickSize": 4, "labelPadding": 2, "title": null, "domain": false}}, "y": {"field": "lo", "type": "quantitative", "scale": {"domain": [-5, 12.4], "nice": false, "zero": false}, "axis": null}, "y2": {"field": "hi"}, "color": {"field": "region", "type": "nominal", "scale": {"domain": ["Inland", "Coast", "Mountain"], "range": ["#f5822a", "#5aa7d9", "#5db95d"]}, "legend": {"orient": "top-right", "title": null, "offset": 2, "padding": 0, "symbolType": "M-1,-0.35H1V0.35H-1Z", "symbolSize": 400, "symbolOpacity": 0.85, "symbolStrokeWidth": 0, "labelFont": "Liberation Serif", "labelFontSize": 11, "labelColor": "#333", "labelOffset": 8, "rowPadding": 3, "labelExpr": "datum.label === 'Inland' ? 'Inland (217)' : datum.label === 'Coast' ? 'Coast (127)' : 'Mountain (103)'"}}}},
 {"data": {"name": "top"}, "transform": [{"filter": "datum.panel === 'B' && datum.region === 'Inland'"}], "mark": {"type": "bar", "size": 3.5, "opacity": 0.3, "xOffset": -1.6}, "encoding": {"x": {"field": "month", "type": "quantitative", "scale": {"domain": [-0.03, 12.9], "nice": false, "zero": false}, "axis": null}, "y": {"field": "lo", "type": "quantitative", "scale": {"domain": [-5, 12.4], "nice": false, "zero": false}, "axis": null}, "y2": {"field": "hi"}, "color": {"field": "region", "type": "nominal", "scale": {"domain": ["Inland", "Coast", "Mountain"], "range": ["#f5822a", "#5aa7d9", "#5db95d"]}}}},
 {"data": {"name": "top"}, "transform": [{"filter": "datum.panel === 'B' && datum.region === 'Mountain'"}], "mark": {"type": "bar", "size": 3.5, "opacity": 0.3, "xOffset": 2.4}, "encoding": {"x": {"field": "month", "type": "quantitative", "scale": {"domain": [-0.03, 12.9], "nice": false, "zero": false}, "axis": null}, "y": {"field": "lo", "type": "quantitative", "scale": {"domain": [-5, 12.4], "nice": false, "zero": false}, "axis": null}, "y2": {"field": "hi"}, "color": {"field": "region", "type": "nominal", "scale": {"domain": ["Inland", "Coast", "Mountain"], "range": ["#f5822a", "#5aa7d9", "#5db95d"]}}}},
 {"data": {"name": "top"}, "transform": [{"filter": "datum.panel === 'B'"}], "mark": {"type": "line", "strokeWidth": 1.5, "point": {"filled": true, "size": 10}}, "encoding": {"x": {"field": "month", "type": "quantitative", "scale": {"domain": [-0.03, 12.9], "nice": false, "zero": false}, "axis": null}, "y": {"field": "mean", "type": "quantitative", "scale": {"domain": [-5, 12.4], "nice": false, "zero": false}, "axis": {"orient": "left", "values": [-5, 0, 5, 10], "tickSize": 4, "labels": false, "domain": false, "title": null}}, "color": {"field": "region", "type": "nominal", "scale": {"domain": ["Inland", "Coast", "Mountain"], "range": ["#f5822a", "#5aa7d9", "#5db95d"]}, "legend": null}}},
 {"data": {"name": "top"}, "transform": [{"filter": "datum.panel === 'B' && datum.region === 'Coast'"}], "mark": {"type": "tick", "orient": "horizontal", "size": 5, "thickness": 1, "color": "#555", "xOffset": -5.6}, "encoding": {"x": {"field": "month", "type": "quantitative", "scale": {"domain": [-0.03, 12.9], "nice": false, "zero": false}, "axis": null}, "y": {"field": "mean", "type": "quantitative", "scale": {"domain": [-5, 12.4], "nice": false, "zero": false}, "axis": null}}},
 {"data": {"name": "top"}, "transform": [{"filter": "datum.panel === 'B' && datum.region === 'Inland'"}], "mark": {"type": "tick", "orient": "horizontal", "size": 5, "thickness": 1, "color": "#555", "xOffset": -1.6}, "encoding": {"x": {"field": "month", "type": "quantitative", "scale": {"domain": [-0.03, 12.9], "nice": false, "zero": false}, "axis": null}, "y": {"field": "mean", "type": "quantitative", "scale": {"domain": [-5, 12.4], "nice": false, "zero": false}, "axis": null}}},
 {"data": {"name": "top"}, "transform": [{"filter": "datum.panel === 'B' && datum.region === 'Mountain'"}], "mark": {"type": "tick", "orient": "horizontal", "size": 5, "thickness": 1, "color": "#555", "xOffset": 2.4}, "encoding": {"x": {"field": "month", "type": "quantitative", "scale": {"domain": [-0.03, 12.9], "nice": false, "zero": false}, "axis": null}, "y": {"field": "mean", "type": "quantitative", "scale": {"domain": [-5, 12.4], "nice": false, "zero": false}, "axis": null}}},
 {"data": {"values": [{"t": "B"}]}, "mark": {"type": "text", "align": "left", "baseline": "alphabetic", "font": "DejaVu Sans", "fontSize": 16, "color": "#111"}, "encoding": {"x": {"datum": 0.54, "type": "quantitative", "axis": null}, "y": {"datum": 10.08, "type": "quantitative", "axis": null}, "text": {"field": "t"}}},
 {"data": {"values": [{"t": "Nighttime"}]}, "mark": {"type": "text", "align": "left", "baseline": "alphabetic", "font": "DejaVu Serif", "fontWeight": "bold", "fontSize": 12, "color": "#111"}, "encoding": {"x": {"datum": 1.16, "type": "quantitative", "axis": null}, "y": {"datum": 10.08, "type": "quantitative", "axis": null}, "text": {"field": "t"}}}
]}
],
"spacing": 0,
"bounds": "flush",
"resolve": {"scale": {"color": "independent"}, "legend": {"color": "independent"}}
},
{
"hconcat": [
{"hconcat": [
 {"vconcat": [
  {"width": 136, "height": 67, "view": {"stroke": "#f7a96b", "fill": "#fff6ee", "strokeWidth": 1}, "layer": [
   {"data": {"values": [{}]}, "mark": {"type": "rule", "color": "#f7a96b", "strokeWidth": 1}, "encoding": {"x": {"datum": 1, "type": "quantitative", "scale": {"domain": [0, 4], "nice": false, "zero": false}, "axis": null}}},
   {"data": {"name": "metrics"}, "transform": [{"filter": "datum.m !== 'Climate'"}], "mark": {"type": "rule", "color": "#f7a96b", "strokeWidth": 1}, "encoding": {"x": {"datum": 1, "type": "quantitative", "scale": {"domain": [0, 4], "nice": false, "zero": false}, "axis": null}, "x2": {"datum": 4}, "y": {"field": "m", "type": "nominal", "scale": {"type": "band", "domain": ["Climate", "ΔLST", "log10A"], "paddingInner": 0, "paddingOuter": 0}, "axis": null, "bandPosition": 0}}},
   {"data": {"values": [{"t": "Inland"}]}, "mark": {"type": "text", "angle": 270, "font": "Liberation Serif", "fontSize": 13, "color": "#f19347"}, "encoding": {"x": {"datum": 0.5, "type": "quantitative", "axis": null}, "y": {"datum": "ΔLST", "type": "nominal", "axis": null}, "text": {"field": "t"}}},
   {"data": {"name": "metrics"}, "mark": {"type": "text", "font": "Liberation Serif", "fontSize": 12, "color": "#f19347"}, "encoding": {"x": {"datum": 2.5, "type": "quantitative", "axis": null}, "y": {"field": "m", "type": "nominal", "axis": null}, "text": {"field": "label"}}}
  ]},
  {"width": 136, "height": 67, "view": {"stroke": "#9ccbe8", "fill": "#f3f9fd", "strokeWidth": 1}, "layer": [
   {"data": {"values": [{}]}, "mark": {"type": "rule", "color": "#9ccbe8", "strokeWidth": 1}, "encoding": {"x": {"datum": 1, "type": "quantitative", "scale": {"domain": [0, 4], "nice": false, "zero": false}, "axis": null}}},
   {"data": {"name": "metrics"}, "transform": [{"filter": "datum.m !== 'Climate'"}], "mark": {"type": "rule", "color": "#9ccbe8", "strokeWidth": 1}, "encoding": {"x": {"datum": 1, "type": "quantitative", "scale": {"domain": [0, 4], "nice": false, "zero": false}, "axis": null}, "x2": {"datum": 4}, "y": {"field": "m", "type": "nominal", "scale": {"type": "band", "domain": ["Climate", "ΔLST", "log10A"], "paddingInner": 0, "paddingOuter": 0}, "axis": null, "bandPosition": 0}}},
   {"data": {"values": [{"t": "Coast"}]}, "mark": {"type": "text", "angle": 270, "font": "Liberation Serif", "fontSize": 13, "color": "#6aaed6"}, "encoding": {"x": {"datum": 0.5, "type": "quantitative", "axis": null}, "y": {"datum": "ΔLST", "type": "nominal", "axis": null}, "text": {"field": "t"}}},
   {"data": {"name": "metrics"}, "mark": {"type": "text", "font": "Liberation Serif", "fontSize": 12, "color": "#6aaed6"}, "encoding": {"x": {"datum": 2.5, "type": "quantitative", "axis": null}, "y": {"field": "m", "type": "nominal", "axis": null}, "text": {"field": "label"}}}
  ]},
  {"width": 136, "height": 67, "view": {"stroke": "#a1d99b", "fill": "#f4fbf3", "strokeWidth": 1}, "layer": [
   {"data": {"values": [{}]}, "mark": {"type": "rule", "color": "#a1d99b", "strokeWidth": 1}, "encoding": {"x": {"datum": 1, "type": "quantitative", "scale": {"domain": [0, 4], "nice": false, "zero": false}, "axis": null}}},
   {"data": {"name": "metrics"}, "transform": [{"filter": "datum.m !== 'Climate'"}], "mark": {"type": "rule", "color": "#a1d99b", "strokeWidth": 1}, "encoding": {"x": {"datum": 1, "type": "quantitative", "scale": {"domain": [0, 4], "nice": false, "zero": false}, "axis": null}, "x2": {"datum": 4}, "y": {"field": "m", "type": "nominal", "scale": {"type": "band", "domain": ["Climate", "ΔLST", "log10A"], "paddingInner": 0, "paddingOuter": 0}, "axis": null, "bandPosition": 0}}},
   {"data": {"values": [{"t": "Mountain"}]}, "mark": {"type": "text", "angle": 270, "font": "Liberation Serif", "fontSize": 13, "color": "#74c476"}, "encoding": {"x": {"datum": 0.5, "type": "quantitative", "axis": null}, "y": {"datum": "ΔLST", "type": "nominal", "axis": null}, "text": {"field": "t"}}},
   {"data": {"name": "metrics"}, "mark": {"type": "text", "font": "Liberation Serif", "fontSize": 12, "color": "#74c476"}, "encoding": {"x": {"datum": 2.5, "type": "quantitative", "axis": null}, "y": {"field": "m", "type": "nominal", "axis": null}, "text": {"field": "label"}}}
  ]}
 ], "spacing": 7, "bounds": "flush"},
 {"vconcat": [
  {"width": 138.5, "height": 67, "view": {"stroke": "#f7a96b", "strokeWidth": 1}, "resolve": {"axis": {"x": "independent"}}, "layer": [
   {"data": {"values": [{}]}, "mark": {"type": "rule", "color": "#b5b5b5", "strokeDash": [3, 3], "strokeWidth": 0.8}, "encoding": {"x": {"datum": 0, "type": "quantitative", "scale": {"domain": [-7, 7], "nice": false, "zero": false}, "axis": {"orient": "bottom", "values": [-7,-6,-4,-3,-2,-1,1,2,3,4,6,7], "labels": false, "tickSize": 2.5, "domain": false, "title": null, "tickColor": "#666"}}}},
   {"data": {"name": "rug"}, "transform": [{"filter": "datum.p === 'C' && datum.r === 'Inland'"}], "mark": {"type": "tick", "color": "#d62728", "opacity": 0.28, "size": 11, "thickness": 1}, "encoding": {"x": {"field": "v", "type": "quantitative", "scale": {"domain": [-7, 7], "nice": false, "zero": false}, "axis": {"orient": "bottom", "values": [-5, 0, 5], "labels": false, "tickSize": 5, "domain": false, "title": null, "tickColor": "#555"}}, "y": {"field": "m", "type": "nominal", "scale": {"type": "band", "domain": ["Climate", "ΔLST", "log10A"], "paddingInner": 0, "paddingOuter": 0}, "axis": null}}},
   {"data": {"name": "sig"}, "transform": [{"filter": "datum.p === 'C' && datum.r === 'Inland'"}], "mark": {"type": "text", "align": "left", "font": "Liberation Serif", "fontSize": 7, "color": "#e8818b"}, "encoding": {"x": {"datum": -6.8, "type": "quantitative", "axis": null}, "y": {"field": "m", "type": "nominal", "axis": null}, "text": {"field": "s"}}},
   {"data": {"values": [{"t": "C"}]}, "mark": {"type": "text", "align": "right", "baseline": "alphabetic", "dy": -2.5, "font": "DejaVu Sans", "fontSize": 16, "color": "#000"}, "encoding": {"x": {"datum": 4.85, "type": "quantitative", "axis": null}, "y": {"datum": "log10A", "type": "nominal", "axis": null, "bandPosition": 1}, "text": {"field": "t"}}},
   {"data": {"values": [{"t": "∼i"}]}, "mark": {"type": "text", "align": "left", "baseline": "alphabetic", "dy": -2.5, "font": "Liberation Serif", "fontSize": 11, "color": "#000"}, "encoding": {"x": {"datum": 4.95, "type": "quantitative", "axis": null}, "y": {"datum": "log10A", "type": "nominal", "axis": null, "bandPosition": 1}, "text": {"field": "t"}}},
   {"data": {"values": [{"t": "C"}]}, "mark": {"type": "text", "align": "center", "baseline": "alphabetic", "dy": -2.7, "font": "DejaVu Sans", "fontSize": 16, "color": "#000"}, "encoding": {"x": {"datum": -3.37, "type": "quantitative", "axis": null}, "y": {"datum": "Climate", "type": "nominal", "axis": null, "bandPosition": 0}, "text": {"field": "t"}}},
   {"data": {"values": [{"t": "July - day"}]}, "mark": {"type": "text", "align": "left", "baseline": "alphabetic", "dy": -2.7, "font": "DejaVu Serif", "fontWeight": "bold", "fontSize": 10.5, "color": "#000"}, "encoding": {"x": {"datum": -2.46, "type": "quantitative", "axis": null}, "y": {"datum": "Climate", "type": "nominal", "axis": null, "bandPosition": 0}, "text": {"field": "t"}}}
  ]},
  {"width": 138.5, "height": 67, "view": {"stroke": "#9ccbe8", "strokeWidth": 1}, "resolve": {"axis": {"x": "independent"}}, "layer": [
   {"data": {"values": [{}]}, "mark": {"type": "rule", "color": "#b5b5b5", "strokeDash": [3, 3], "strokeWidth": 0.8}, "encoding": {"x": {"datum": 0, "type": "quantitative", "scale": {"domain": [-7, 7], "nice": false, "zero": false}, "axis": {"orient": "bottom", "values": [-7,-6,-4,-3,-2,-1,1,2,3,4,6,7], "labels": false, "tickSize": 2.5, "domain": false, "title": null, "tickColor": "#666"}}}},
   {"data": {"name": "rug"}, "transform": [{"filter": "datum.p === 'C' && datum.r === 'Coast'"}], "mark": {"type": "tick", "color": "#d62728", "opacity": 0.28, "size": 11, "thickness": 1}, "encoding": {"x": {"field": "v", "type": "quantitative", "scale": {"domain": [-7, 7], "nice": false, "zero": false}, "axis": {"orient": "bottom", "values": [-5, 0, 5], "labels": false, "tickSize": 5, "domain": false, "title": null, "tickColor": "#555"}}, "y": {"field": "m", "type": "nominal", "scale": {"type": "band", "domain": ["Climate", "ΔLST", "log10A"], "paddingInner": 0, "paddingOuter": 0}, "axis": null}}},
   {"data": {"name": "sig"}, "transform": [{"filter": "datum.p === 'C' && datum.r === 'Coast'"}], "mark": {"type": "text", "align": "left", "font": "Liberation Serif", "fontSize": 7, "color": "#e8818b"}, "encoding": {"x": {"datum": -6.8, "type": "quantitative", "axis": null}, "y": {"field": "m", "type": "nominal", "axis": null}, "text": {"field": "s"}}},
   {"data": {"values": [{"t": "C"}]}, "mark": {"type": "text", "align": "right", "baseline": "alphabetic", "dy": -2.5, "font": "DejaVu Sans", "fontSize": 16, "color": "#000"}, "encoding": {"x": {"datum": 4.85, "type": "quantitative", "axis": null}, "y": {"datum": "log10A", "type": "nominal", "axis": null, "bandPosition": 1}, "text": {"field": "t"}}},
   {"data": {"values": [{"t": "∼ii"}]}, "mark": {"type": "text", "align": "left", "baseline": "alphabetic", "dy": -2.5, "font": "Liberation Serif", "fontSize": 11, "color": "#000"}, "encoding": {"x": {"datum": 4.95, "type": "quantitative", "axis": null}, "y": {"datum": "log10A", "type": "nominal", "axis": null, "bandPosition": 1}, "text": {"field": "t"}}}
  ]},
  {"width": 138.5, "height": 67, "view": {"stroke": "#a1d99b", "strokeWidth": 1}, "resolve": {"axis": {"x": "independent"}}, "layer": [
   {"data": {"values": [{}]}, "mark": {"type": "rule", "color": "#b5b5b5", "strokeDash": [3, 3], "strokeWidth": 0.8}, "encoding": {"x": {"datum": 0, "type": "quantitative", "scale": {"domain": [-7, 7], "nice": false, "zero": false}, "axis": {"orient": "bottom", "values": [-7,-6,-4,-3,-2,-1,1,2,3,4,6,7], "labels": false, "tickSize": 2.5, "domain": false, "title": null, "tickColor": "#666"}}}},
   {"data": {"name": "rug"}, "transform": [{"filter": "datum.p === 'C' && datum.r === 'Mountain'"}], "mark": {"type": "tick", "color": "#d62728", "opacity": 0.28, "size": 11, "thickness": 1}, "encoding": {"x": {"field": "v", "type": "quantitative", "scale": {"domain": [-7, 7], "nice": false, "zero": false}, "axis": {"orient": "bottom", "values": [-5, 0, 5], "tickSize": 5, "domain": false, "title": null, "tickColor": "#555", "labelPadding": 1}}, "y": {"field": "m", "type": "nominal", "scale": {"type": "band", "domain": ["Climate", "ΔLST", "log10A"], "paddingInner": 0, "paddingOuter": 0}, "axis": null}}},
   {"data": {"name": "sig"}, "transform": [{"filter": "datum.p === 'C' && datum.r === 'Mountain'"}], "mark": {"type": "text", "align": "left", "font": "Liberation Serif", "fontSize": 7, "color": "#e8818b"}, "encoding": {"x": {"datum": -6.8, "type": "quantitative", "axis": null}, "y": {"field": "m", "type": "nominal", "axis": null}, "text": {"field": "s"}}},
   {"data": {"values": [{"t": "C"}]}, "mark": {"type": "text", "align": "right", "baseline": "alphabetic", "dy": -2.5, "font": "DejaVu Sans", "fontSize": 16, "color": "#000"}, "encoding": {"x": {"datum": 4.85, "type": "quantitative", "axis": null}, "y": {"datum": "log10A", "type": "nominal", "axis": null, "bandPosition": 1}, "text": {"field": "t"}}},
   {"data": {"values": [{"t": "∼iii"}]}, "mark": {"type": "text", "align": "left", "baseline": "alphabetic", "dy": -2.5, "font": "Liberation Serif", "fontSize": 11, "color": "#000"}, "encoding": {"x": {"datum": 4.95, "type": "quantitative", "axis": null}, "y": {"datum": "log10A", "type": "nominal", "axis": null, "bandPosition": 1}, "text": {"field": "t"}}}
  ]}
 ], "spacing": 7, "bounds": "flush"}
], "spacing": 0},
{"vconcat": [
  {"width": 137, "height": 67, "view": {"stroke": "#f7a96b", "strokeWidth": 1}, "resolve": {"axis": {"x": "independent"}}, "layer": [
   {"data": {"values": [{}]}, "mark": {"type": "rule", "color": "#b5b5b5", "strokeDash": [3, 3], "strokeWidth": 0.8}, "encoding": {"x": {"datum": 0, "type": "quantitative", "scale": {"domain": [-7, 7], "nice": false, "zero": false}, "axis": {"orient": "bottom", "values": [-7,-6,-4,-3,-2,-1,1,2,3,4,6,7], "labels": false, "tickSize": 2.5, "domain": false, "title": null, "tickColor": "#666"}}}},
   {"data": {"name": "rug"}, "transform": [{"filter": "datum.p === 'D' && datum.r === 'Inland'"}], "mark": {"type": "tick", "color": "#8c3fa6", "opacity": 0.28, "size": 11, "thickness": 1}, "encoding": {"x": {"field": "v", "type": "quantitative", "scale": {"domain": [-7, 7], "nice": false, "zero": false}, "axis": {"orient": "bottom", "values": [-5, 0, 5], "labels": false, "tickSize": 5, "domain": false, "title": null, "tickColor": "#555"}}, "y": {"field": "m", "type": "nominal", "scale": {"type": "band", "domain": ["Climate", "ΔLST", "log10A"], "paddingInner": 0, "paddingOuter": 0}, "axis": null}}},
   {"data": {"name": "sig"}, "transform": [{"filter": "datum.p === 'D' && datum.r === 'Inland'"}], "mark": {"type": "text", "align": "left", "font": "Liberation Serif", "fontSize": 7, "color": "#c3a3d3"}, "encoding": {"x": {"datum": -6.8, "type": "quantitative", "axis": null}, "y": {"field": "m", "type": "nominal", "axis": null}, "text": {"field": "s"}}},
   {"data": {"values": [{"t": "D"}]}, "mark": {"type": "text", "align": "right", "baseline": "alphabetic", "dy": -2.5, "font": "DejaVu Sans", "fontSize": 16, "color": "#000"}, "encoding": {"x": {"datum": 4.85, "type": "quantitative", "axis": null}, "y": {"datum": "log10A", "type": "nominal", "axis": null, "bandPosition": 1}, "text": {"field": "t"}}},
   {"data": {"values": [{"t": "∼i"}]}, "mark": {"type": "text", "align": "left", "baseline": "alphabetic", "dy": -2.5, "font": "Liberation Serif", "fontSize": 11, "color": "#000"}, "encoding": {"x": {"datum": 4.95, "type": "quantitative", "axis": null}, "y": {"datum": "log10A", "type": "nominal", "axis": null, "bandPosition": 1}, "text": {"field": "t"}}},
   {"data": {"values": [{"t": "D"}]}, "mark": {"type": "text", "align": "center", "baseline": "alphabetic", "dy": -2.7, "font": "DejaVu Sans", "fontSize": 16, "color": "#000"}, "encoding": {"x": {"datum": -3.6, "type": "quantitative", "axis": null}, "y": {"datum": "Climate", "type": "nominal", "axis": null, "bandPosition": 0}, "text": {"field": "t"}}},
   {"data": {"values": [{"t": "July - night"}]}, "mark": {"type": "text", "align": "left", "baseline": "alphabetic", "dy": -2.7, "font": "DejaVu Serif", "fontWeight": "bold", "fontSize": 10.5, "color": "#000"}, "encoding": {"x": {"datum": -2.88, "type": "quantitative", "axis": null}, "y": {"datum": "Climate", "type": "nominal", "axis": null, "bandPosition": 0}, "text": {"field": "t"}}}
  ]},
  {"width": 137, "height": 67, "view": {"stroke": "#9ccbe8", "strokeWidth": 1}, "resolve": {"axis": {"x": "independent"}}, "layer": [
   {"data": {"values": [{}]}, "mark": {"type": "rule", "color": "#b5b5b5", "strokeDash": [3, 3], "strokeWidth": 0.8}, "encoding": {"x": {"datum": 0, "type": "quantitative", "scale": {"domain": [-7, 7], "nice": false, "zero": false}, "axis": {"orient": "bottom", "values": [-7,-6,-4,-3,-2,-1,1,2,3,4,6,7], "labels": false, "tickSize": 2.5, "domain": false, "title": null, "tickColor": "#666"}}}},
   {"data": {"name": "rug"}, "transform": [{"filter": "datum.p === 'D' && datum.r === 'Coast'"}], "mark": {"type": "tick", "color": "#8c3fa6", "opacity": 0.28, "size": 11, "thickness": 1}, "encoding": {"x": {"field": "v", "type": "quantitative", "scale": {"domain": [-7, 7], "nice": false, "zero": false}, "axis": {"orient": "bottom", "values": [-5, 0, 5], "labels": false, "tickSize": 5, "domain": false, "title": null, "tickColor": "#555"}}, "y": {"field": "m", "type": "nominal", "scale": {"type": "band", "domain": ["Climate", "ΔLST", "log10A"], "paddingInner": 0, "paddingOuter": 0}, "axis": null}}},
   {"data": {"name": "sig"}, "transform": [{"filter": "datum.p === 'D' && datum.r === 'Coast'"}], "mark": {"type": "text", "align": "left", "font": "Liberation Serif", "fontSize": 7, "color": "#c3a3d3"}, "encoding": {"x": {"datum": -6.8, "type": "quantitative", "axis": null}, "y": {"field": "m", "type": "nominal", "axis": null}, "text": {"field": "s"}}},
   {"data": {"values": [{"t": "D"}]}, "mark": {"type": "text", "align": "right", "baseline": "alphabetic", "dy": -2.5, "font": "DejaVu Sans", "fontSize": 16, "color": "#000"}, "encoding": {"x": {"datum": 4.85, "type": "quantitative", "axis": null}, "y": {"datum": "log10A", "type": "nominal", "axis": null, "bandPosition": 1}, "text": {"field": "t"}}},
   {"data": {"values": [{"t": "∼ii"}]}, "mark": {"type": "text", "align": "left", "baseline": "alphabetic", "dy": -2.5, "font": "Liberation Serif", "fontSize": 11, "color": "#000"}, "encoding": {"x": {"datum": 4.95, "type": "quantitative", "axis": null}, "y": {"datum": "log10A", "type": "nominal", "axis": null, "bandPosition": 1}, "text": {"field": "t"}}}
  ]},
  {"width": 137, "height": 67, "view": {"stroke": "#a1d99b", "strokeWidth": 1}, "resolve": {"axis": {"x": "independent"}}, "layer": [
   {"data": {"values": [{}]}, "mark": {"type": "rule", "color": "#b5b5b5", "strokeDash": [3, 3], "strokeWidth": 0.8}, "encoding": {"x": {"datum": 0, "type": "quantitative", "scale": {"domain": [-7, 7], "nice": false, "zero": false}, "axis": {"orient": "bottom", "values": [-7,-6,-4,-3,-2,-1,1,2,3,4,6,7], "labels": false, "tickSize": 2.5, "domain": false, "title": null, "tickColor": "#666"}}}},
   {"data": {"name": "rug"}, "transform": [{"filter": "datum.p === 'D' && datum.r === 'Mountain'"}], "mark": {"type": "tick", "color": "#8c3fa6", "opacity": 0.28, "size": 11, "thickness": 1}, "encoding": {"x": {"field": "v", "type": "quantitative", "scale": {"domain": [-7, 7], "nice": false, "zero": false}, "axis": {"orient": "bottom", "values": [-5, 0, 5], "tickSize": 5, "domain": false, "title": "ΔCloudCover(%)", "titleFontWeight": "bold", "titleFontSize": 12, "titlePadding": 2, "tickColor": "#555", "labelPadding": 1}}, "y": {"field": "m", "type": "nominal", "scale": {"type": "band", "domain": ["Climate", "ΔLST", "log10A"], "paddingInner": 0, "paddingOuter": 0}, "axis": null}}},
   {"data": {"name": "sig"}, "transform": [{"filter": "datum.p === 'D' && datum.r === 'Mountain'"}], "mark": {"type": "text", "align": "left", "font": "Liberation Serif", "fontSize": 7, "color": "#c3a3d3"}, "encoding": {"x": {"datum": -6.8, "type": "quantitative", "axis": null}, "y": {"field": "m", "type": "nominal", "axis": null}, "text": {"field": "s"}}},
   {"data": {"values": [{"t": "D"}]}, "mark": {"type": "text", "align": "right", "baseline": "alphabetic", "dy": -2.5, "font": "DejaVu Sans", "fontSize": 16, "color": "#000"}, "encoding": {"x": {"datum": 4.85, "type": "quantitative", "axis": null}, "y": {"datum": "log10A", "type": "nominal", "axis": null, "bandPosition": 1}, "text": {"field": "t"}}},
   {"data": {"values": [{"t": "∼iii"}]}, "mark": {"type": "text", "align": "left", "baseline": "alphabetic", "dy": -2.5, "font": "Liberation Serif", "fontSize": 11, "color": "#000"}, "encoding": {"x": {"datum": 4.95, "type": "quantitative", "axis": null}, "y": {"datum": "log10A", "type": "nominal", "axis": null, "bandPosition": 1}, "text": {"field": "t"}}}
  ]}
], "spacing": 7, "bounds": "flush"},
{"vconcat": [
  {"width": 137.5, "height": 67, "view": {"stroke": "#f7a96b", "strokeWidth": 1}, "resolve": {"axis": {"x": "independent"}}, "layer": [
   {"data": {"values": [{}]}, "mark": {"type": "rule", "color": "#b5b5b5", "strokeDash": [3, 3], "strokeWidth": 0.8}, "encoding": {"x": {"datum": 0, "type": "quantitative", "scale": {"domain": [-7, 7], "nice": false, "zero": false}, "axis": {"orient": "bottom", "values": [-7,-6,-4,-3,-2,-1,1,2,3,4,6,7], "labels": false, "tickSize": 2.5, "domain": false, "title": null, "tickColor": "#666"}}}},
   {"data": {"name": "rug"}, "transform": [{"filter": "datum.p === 'E' && datum.r === 'Inland'"}], "mark": {"type": "tick", "color": "#d62728", "opacity": 0.28, "size": 11, "thickness": 1}, "encoding": {"x": {"field": "v", "type": "quantitative", "scale": {"domain": [-7, 7], "nice": false, "zero": false}, "axis": {"orient": "bottom", "values": [-5, 0, 5], "labels": false, "tickSize": 5, "domain": false, "title": null, "tickColor": "#555"}}, "y": {"field": "m", "type": "nominal", "scale": {"type": "band", "domain": ["Climate", "ΔLST", "log10A"], "paddingInner": 0, "paddingOuter": 0}, "axis": null}}},
   {"data": {"name": "sig"}, "transform": [{"filter": "datum.p === 'E' && datum.r === 'Inland'"}], "mark": {"type": "text", "align": "left", "font": "Liberation Serif", "fontSize": 7, "color": "#e8818b"}, "encoding": {"x": {"datum": -6.8, "type": "quantitative", "axis": null}, "y": {"field": "m", "type": "nominal", "axis": null}, "text": {"field": "s"}}},
   {"data": {"values": [{"t": "E"}]}, "mark": {"type": "text", "align": "right", "baseline": "alphabetic", "dy": -2.5, "font": "DejaVu Sans", "fontSize": 16, "color": "#000"}, "encoding": {"x": {"datum": 4.7, "type": "quantitative", "axis": null}, "y": {"datum": "log10A", "type": "nominal", "axis": null, "bandPosition": 1}, "text": {"field": "t"}}},
   {"data": {"values": [{"t": "∼i"}]}, "mark": {"type": "text", "align": "left", "baseline": "alphabetic", "dy": -2.5, "font": "Liberation Serif", "fontSize": 11, "color": "#000"}, "encoding": {"x": {"datum": 4.8, "type": "quantitative", "axis": null}, "y": {"datum": "log10A", "type": "nominal", "axis": null, "bandPosition": 1}, "text": {"field": "t"}}},
   {"data": {"values": [{"t": "E"}]}, "mark": {"type": "text", "align": "center", "baseline": "alphabetic", "dy": -2.7, "font": "DejaVu Sans", "fontSize": 16, "color": "#000"}, "encoding": {"x": {"datum": -4.41, "type": "quantitative", "axis": null}, "y": {"datum": "Climate", "type": "nominal", "axis": null, "bandPosition": 0}, "text": {"field": "t"}}},
   {"data": {"values": [{"t": "January - day"}]}, "mark": {"type": "text", "align": "left", "baseline": "alphabetic", "dy": -2.7, "font": "DejaVu Serif", "fontWeight": "bold", "fontSize": 10.5, "color": "#000"}, "encoding": {"x": {"datum": -3.63, "type": "quantitative", "axis": null}, "y": {"datum": "Climate", "type": "nominal", "axis": null, "bandPosition": 0}, "text": {"field": "t"}}}
  ]},
  {"width": 137.5, "height": 67, "view": {"stroke": "#9ccbe8", "strokeWidth": 1}, "resolve": {"axis": {"x": "independent"}}, "layer": [
   {"data": {"values": [{}]}, "mark": {"type": "rule", "color": "#b5b5b5", "strokeDash": [3, 3], "strokeWidth": 0.8}, "encoding": {"x": {"datum": 0, "type": "quantitative", "scale": {"domain": [-7, 7], "nice": false, "zero": false}, "axis": {"orient": "bottom", "values": [-7,-6,-4,-3,-2,-1,1,2,3,4,6,7], "labels": false, "tickSize": 2.5, "domain": false, "title": null, "tickColor": "#666"}}}},
   {"data": {"name": "rug"}, "transform": [{"filter": "datum.p === 'E' && datum.r === 'Coast'"}], "mark": {"type": "tick", "color": "#d62728", "opacity": 0.28, "size": 11, "thickness": 1}, "encoding": {"x": {"field": "v", "type": "quantitative", "scale": {"domain": [-7, 7], "nice": false, "zero": false}, "axis": {"orient": "bottom", "values": [-5, 0, 5], "labels": false, "tickSize": 5, "domain": false, "title": null, "tickColor": "#555"}}, "y": {"field": "m", "type": "nominal", "scale": {"type": "band", "domain": ["Climate", "ΔLST", "log10A"], "paddingInner": 0, "paddingOuter": 0}, "axis": null}}},
   {"data": {"values": [{"t": "E"}]}, "mark": {"type": "text", "align": "right", "baseline": "alphabetic", "dy": -2.5, "font": "DejaVu Sans", "fontSize": 16, "color": "#000"}, "encoding": {"x": {"datum": 4.7, "type": "quantitative", "axis": null}, "y": {"datum": "log10A", "type": "nominal", "axis": null, "bandPosition": 1}, "text": {"field": "t"}}},
   {"data": {"values": [{"t": "∼ii"}]}, "mark": {"type": "text", "align": "left", "baseline": "alphabetic", "dy": -2.5, "font": "Liberation Serif", "fontSize": 11, "color": "#000"}, "encoding": {"x": {"datum": 4.8, "type": "quantitative", "axis": null}, "y": {"datum": "log10A", "type": "nominal", "axis": null, "bandPosition": 1}, "text": {"field": "t"}}}
  ]},
  {"width": 137.5, "height": 67, "view": {"stroke": "#a1d99b", "strokeWidth": 1}, "resolve": {"axis": {"x": "independent"}}, "layer": [
   {"data": {"values": [{}]}, "mark": {"type": "rule", "color": "#b5b5b5", "strokeDash": [3, 3], "strokeWidth": 0.8}, "encoding": {"x": {"datum": 0, "type": "quantitative", "scale": {"domain": [-7, 7], "nice": false, "zero": false}, "axis": {"orient": "bottom", "values": [-7,-6,-4,-3,-2,-1,1,2,3,4,6,7], "labels": false, "tickSize": 2.5, "domain": false, "title": null, "tickColor": "#666"}}}},
   {"data": {"name": "rug"}, "transform": [{"filter": "datum.p === 'E' && datum.r === 'Mountain'"}], "mark": {"type": "tick", "color": "#d62728", "opacity": 0.28, "size": 11, "thickness": 1}, "encoding": {"x": {"field": "v", "type": "quantitative", "scale": {"domain": [-7, 7], "nice": false, "zero": false}, "axis": {"orient": "bottom", "values": [-5, 0, 5], "tickSize": 5, "domain": false, "title": null, "tickColor": "#555", "labelPadding": 1}}, "y": {"field": "m", "type": "nominal", "scale": {"type": "band", "domain": ["Climate", "ΔLST", "log10A"], "paddingInner": 0, "paddingOuter": 0}, "axis": null}}},
   {"data": {"name": "sig"}, "transform": [{"filter": "datum.p === 'E' && datum.r === 'Mountain'"}], "mark": {"type": "text", "align": "left", "font": "Liberation Serif", "fontSize": 7, "color": "#e8818b"}, "encoding": {"x": {"datum": -6.8, "type": "quantitative", "axis": null}, "y": {"field": "m", "type": "nominal", "axis": null}, "text": {"field": "s"}}},
   {"data": {"values": [{"t": "E"}]}, "mark": {"type": "text", "align": "right", "baseline": "alphabetic", "dy": -2.5, "font": "DejaVu Sans", "fontSize": 16, "color": "#000"}, "encoding": {"x": {"datum": 4.7, "type": "quantitative", "axis": null}, "y": {"datum": "log10A", "type": "nominal", "axis": null, "bandPosition": 1}, "text": {"field": "t"}}},
   {"data": {"values": [{"t": "∼iii"}]}, "mark": {"type": "text", "align": "left", "baseline": "alphabetic", "dy": -2.5, "font": "Liberation Serif", "fontSize": 11, "color": "#000"}, "encoding": {"x": {"datum": 4.8, "type": "quantitative", "axis": null}, "y": {"datum": "log10A", "type": "nominal", "axis": null, "bandPosition": 1}, "text": {"field": "t"}}}
  ]}
], "spacing": 7, "bounds": "flush"},
{"vconcat": [
  {"width": 136.5, "height": 67, "view": {"stroke": "#f7a96b", "strokeWidth": 1}, "resolve": {"axis": {"x": "independent"}}, "layer": [
   {"data": {"values": [{}]}, "mark": {"type": "rule", "color": "#b5b5b5", "strokeDash": [3, 3], "strokeWidth": 0.8}, "encoding": {"x": {"datum": 0, "type": "quantitative", "scale": {"domain": [-7, 7], "nice": false, "zero": false}, "axis": {"orient": "bottom", "values": [-7,-6,-4,-3,-2,-1,1,2,3,4,6,7], "labels": false, "tickSize": 2.5, "domain": false, "title": null, "tickColor": "#666"}}}},
   {"data": {"name": "rug"}, "transform": [{"filter": "datum.p === 'F' && datum.r === 'Inland'"}], "mark": {"type": "tick", "color": "#8c3fa6", "opacity": 0.28, "size": 11, "thickness": 1}, "encoding": {"x": {"field": "v", "type": "quantitative", "scale": {"domain": [-7, 7], "nice": false, "zero": false}, "axis": {"orient": "bottom", "values": [-5, 0, 5], "labels": false, "tickSize": 5, "domain": false, "title": null, "tickColor": "#555"}}, "y": {"field": "m", "type": "nominal", "scale": {"type": "band", "domain": ["Climate", "ΔLST", "log10A"], "paddingInner": 0, "paddingOuter": 0}, "axis": null}}},
   {"data": {"name": "sig"}, "transform": [{"filter": "datum.p === 'F' && datum.r === 'Inland'"}], "mark": {"type": "text", "align": "left", "font": "Liberation Serif", "fontSize": 7, "color": "#c3a3d3"}, "encoding": {"x": {"datum": -6.8, "type": "quantitative", "axis": null}, "y": {"field": "m", "type": "nominal", "axis": null}, "text": {"field": "s"}}},
   {"data": {"values": [{"t": "F"}]}, "mark": {"type": "text", "align": "right", "baseline": "alphabetic", "dy": -2.5, "font": "DejaVu Sans", "fontSize": 16, "color": "#000"}, "encoding": {"x": {"datum": 4.6, "type": "quantitative", "axis": null}, "y": {"datum": "log10A", "type": "nominal", "axis": null, "bandPosition": 1}, "text": {"field": "t"}}},
   {"data": {"values": [{"t": "∼i"}]}, "mark": {"type": "text", "align": "left", "baseline": "alphabetic", "dy": -2.5, "font": "Liberation Serif", "fontSize": 11, "color": "#000"}, "encoding": {"x": {"datum": 4.75, "type": "quantitative", "axis": null}, "y": {"datum": "log10A", "type": "nominal", "axis": null, "bandPosition": 1}, "text": {"field": "t"}}},
   {"data": {"values": [{"t": "F"}]}, "mark": {"type": "text", "align": "center", "baseline": "alphabetic", "dy": -2.7, "font": "DejaVu Sans", "fontSize": 16, "color": "#000"}, "encoding": {"x": {"datum": -4.87, "type": "quantitative", "axis": null}, "y": {"datum": "Climate", "type": "nominal", "axis": null, "bandPosition": 0}, "text": {"field": "t"}}},
   {"data": {"values": [{"t": "January - night"}]}, "mark": {"type": "text", "align": "left", "baseline": "alphabetic", "dy": -2.7, "font": "DejaVu Serif", "fontWeight": "bold", "fontSize": 10.5, "color": "#000"}, "encoding": {"x": {"datum": -4.09, "type": "quantitative", "axis": null}, "y": {"datum": "Climate", "type": "nominal", "axis": null, "bandPosition": 0}, "text": {"field": "t"}}}
  ]},
  {"width": 136.5, "height": 67, "view": {"stroke": "#9ccbe8", "strokeWidth": 1}, "resolve": {"axis": {"x": "independent"}}, "layer": [
   {"data": {"values": [{}]}, "mark": {"type": "rule", "color": "#b5b5b5", "strokeDash": [3, 3], "strokeWidth": 0.8}, "encoding": {"x": {"datum": 0, "type": "quantitative", "scale": {"domain": [-7, 7], "nice": false, "zero": false}, "axis": {"orient": "bottom", "values": [-7,-6,-4,-3,-2,-1,1,2,3,4,6,7], "labels": false, "tickSize": 2.5, "domain": false, "title": null, "tickColor": "#666"}}}},
   {"data": {"name": "rug"}, "transform": [{"filter": "datum.p === 'F' && datum.r === 'Coast'"}], "mark": {"type": "tick", "color": "#8c3fa6", "opacity": 0.28, "size": 11, "thickness": 1}, "encoding": {"x": {"field": "v", "type": "quantitative", "scale": {"domain": [-7, 7], "nice": false, "zero": false}, "axis": {"orient": "bottom", "values": [-5, 0, 5], "labels": false, "tickSize": 5, "domain": false, "title": null, "tickColor": "#555"}}, "y": {"field": "m", "type": "nominal", "scale": {"type": "band", "domain": ["Climate", "ΔLST", "log10A"], "paddingInner": 0, "paddingOuter": 0}, "axis": null}}},
   {"data": {"name": "sig"}, "transform": [{"filter": "datum.p === 'F' && datum.r === 'Coast'"}], "mark": {"type": "text", "align": "left", "font": "Liberation Serif", "fontSize": 7, "color": "#c3a3d3"}, "encoding": {"x": {"datum": -6.8, "type": "quantitative", "axis": null}, "y": {"field": "m", "type": "nominal", "axis": null}, "text": {"field": "s"}}},
   {"data": {"values": [{"t": "F"}]}, "mark": {"type": "text", "align": "right", "baseline": "alphabetic", "dy": -2.5, "font": "DejaVu Sans", "fontSize": 16, "color": "#000"}, "encoding": {"x": {"datum": 4.6, "type": "quantitative", "axis": null}, "y": {"datum": "log10A", "type": "nominal", "axis": null, "bandPosition": 1}, "text": {"field": "t"}}},
   {"data": {"values": [{"t": "∼ii"}]}, "mark": {"type": "text", "align": "left", "baseline": "alphabetic", "dy": -2.5, "font": "Liberation Serif", "fontSize": 11, "color": "#000"}, "encoding": {"x": {"datum": 4.75, "type": "quantitative", "axis": null}, "y": {"datum": "log10A", "type": "nominal", "axis": null, "bandPosition": 1}, "text": {"field": "t"}}}
  ]},
  {"width": 136.5, "height": 67, "view": {"stroke": "#a1d99b", "strokeWidth": 1}, "resolve": {"axis": {"x": "independent"}}, "layer": [
   {"data": {"values": [{}]}, "mark": {"type": "rule", "color": "#b5b5b5", "strokeDash": [3, 3], "strokeWidth": 0.8}, "encoding": {"x": {"datum": 0, "type": "quantitative", "scale": {"domain": [-7, 7], "nice": false, "zero": false}, "axis": {"orient": "bottom", "values": [-7,-6,-4,-3,-2,-1,1,2,3,4,6,7], "labels": false, "tickSize": 2.5, "domain": false, "title": null, "tickColor": "#666"}}}},
   {"data": {"name": "rug"}, "transform": [{"filter": "datum.p === 'F' && datum.r === 'Mountain'"}], "mark": {"type": "tick", "color": "#8c3fa6", "opacity": 0.28, "size": 11, "thickness": 1}, "encoding": {"x": {"field": "v", "type": "quantitative", "scale": {"domain": [-7, 7], "nice": false, "zero": false}, "axis": {"orient": "bottom", "values": [-5, 0, 5], "tickSize": 5, "domain": false, "title": null, "tickColor": "#555", "labelPadding": 1}}, "y": {"field": "m", "type": "nominal", "scale": {"type": "band", "domain": ["Climate", "ΔLST", "log10A"], "paddingInner": 0, "paddingOuter": 0}, "axis": null}}},
   {"data": {"values": [{"t": "F"}]}, "mark": {"type": "text", "align": "right", "baseline": "alphabetic", "dy": -2.5, "font": "DejaVu Sans", "fontSize": 16, "color": "#000"}, "encoding": {"x": {"datum": 4.6, "type": "quantitative", "axis": null}, "y": {"datum": "log10A", "type": "nominal", "axis": null, "bandPosition": 1}, "text": {"field": "t"}}},
   {"data": {"values": [{"t": "∼iii"}]}, "mark": {"type": "text", "align": "left", "baseline": "alphabetic", "dy": -2.5, "font": "Liberation Serif", "fontSize": 11, "color": "#000"}, "encoding": {"x": {"datum": 4.75, "type": "quantitative", "axis": null}, "y": {"datum": "log10A", "type": "nominal", "axis": null, "bandPosition": 1}, "text": {"field": "t"}}}
  ]}
], "spacing": 7, "bounds": "flush"}
],
"spacing": 10
}
],
"spacing": 24,
"config": {
 "font": "Liberation Serif",
 "view": {"stroke": "#333", "strokeWidth": 1},
 "axis": {"labelFont": "Liberation Serif", "titleFont": "Liberation Serif", "labelColor": "#222", "titleColor": "#111", "tickColor": "#444", "domainColor": "#333", "grid": false, "labelFontSize": 13},
 "legend": {"labelFont": "Liberation Serif"}
}
}
